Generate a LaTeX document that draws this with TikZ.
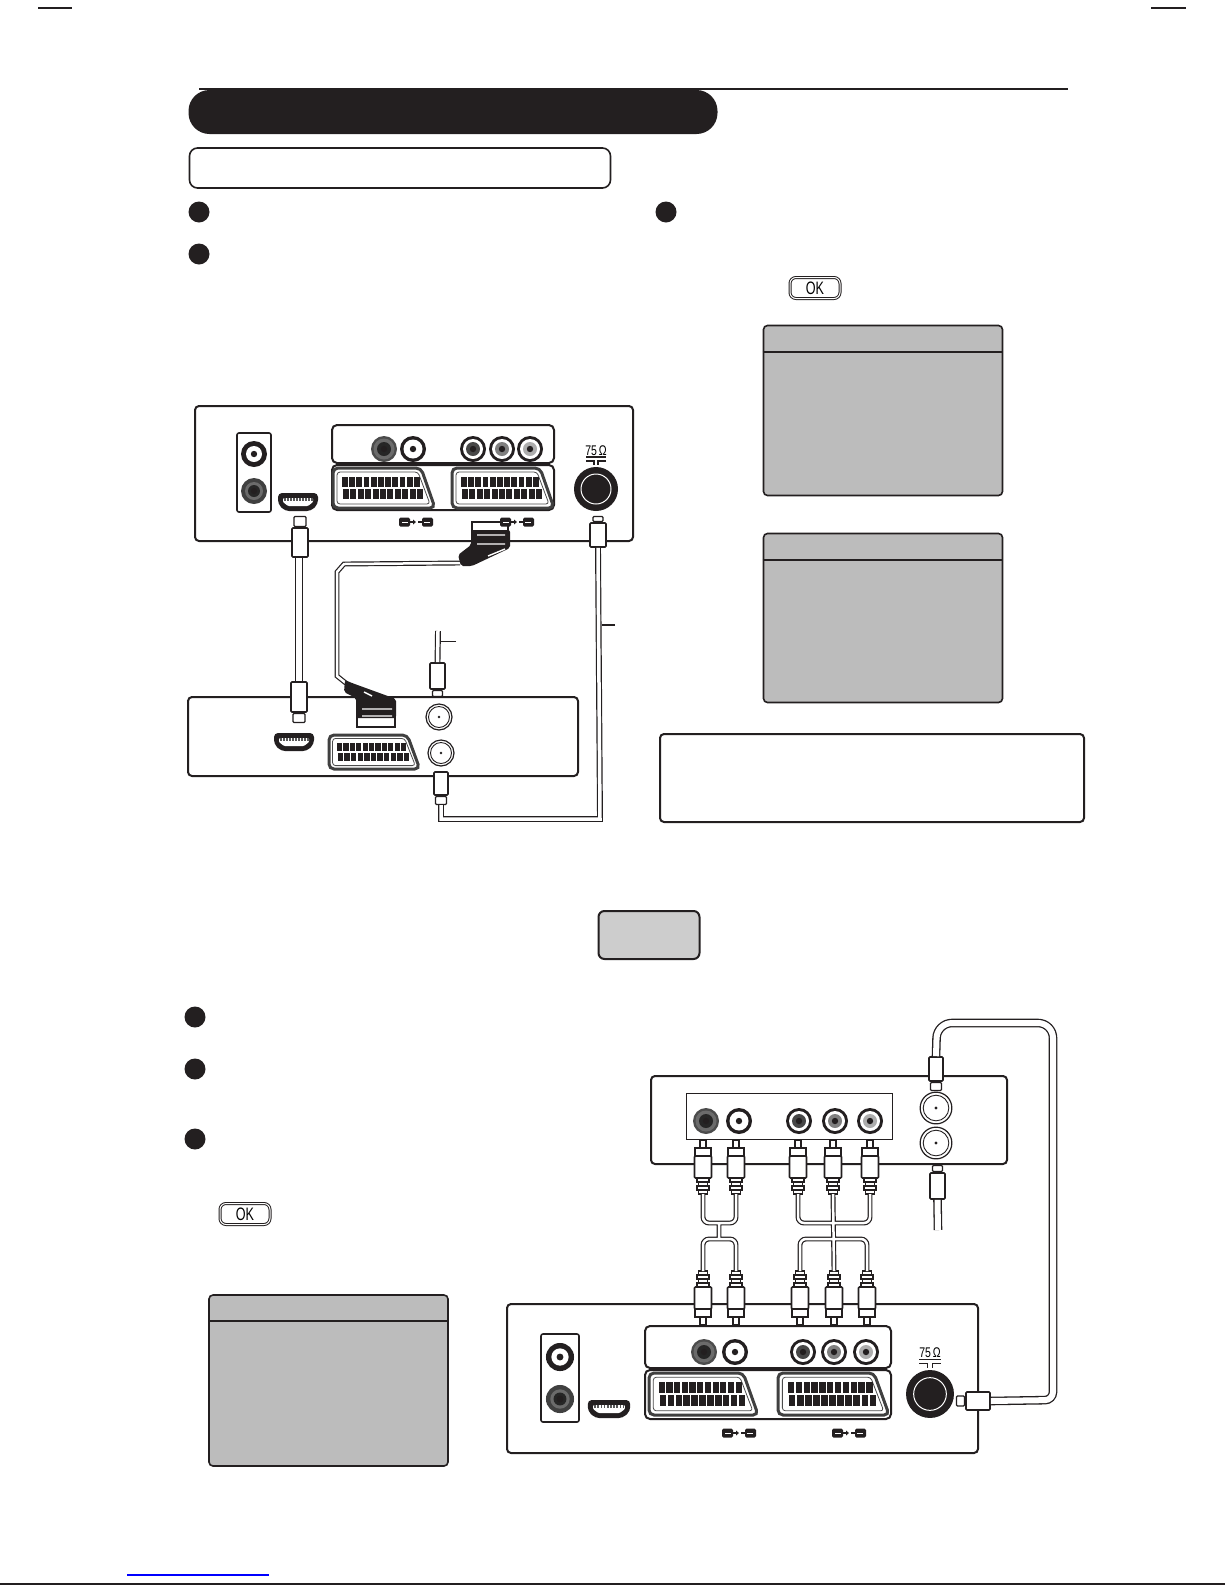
\documentclass[tikz,border=0pt]{standalone}
\usepackage{fontspec}
\setmainfont{Liberation Sans}
\usetikzlibrary{positioning}
\definecolor{inkblack}{HTML}{231F20}
\definecolor{osdgrey}{HTML}{BCBCBC}
\definecolor{keygrey}{HTML}{CDCDCD}

\tikzset{
  devbox/.style={draw=inkblack, fill=white, line width=2pt, rounded corners=4pt, inner sep=0pt},
  panelbox/.style={devbox, rounded corners=5pt},
  osdbox/.style={draw=inkblack, fill=osdgrey, line width=1.6pt, rounded corners=4pt, minimum width=239pt, inner sep=0pt},
  bullet/.style={circle, fill=inkblack, minimum size=21pt, inner sep=0pt},
  okkey/.style={draw=inkblack, fill=white, double, double distance=1pt, line width=1pt, rounded corners=6pt,
    minimum width=50pt, minimum height=21pt, inner sep=0pt, font=\fontsize{18}{18}\selectfont},
  plugbody/.style={draw=inkblack, fill=white, line width=1.6pt, rounded corners=1pt, inner sep=0pt},
  plugtip/.style={plugbody, line width=1.3pt},
  cablefat/.style={draw=inkblack, double=white, double distance=6pt, line width=1.3pt},
  cablemid/.style={draw=inkblack, double=white, double distance=3.5pt, line width=1.2pt},
  cablethin/.style={draw=inkblack, double=white, double distance=2.5pt, line width=1.2pt},
  node distance=0pt,
  pics/jack/.style n args={5}{code={
    \fill[#1] (0,0) circle (13pt);
    \fill[#2] (0,0) circle (#3pt);
    \fill[#4] (0,0) circle (#5pt);
    \fill[inkblack] (0,0) circle (3.2pt);
  }},
  pics/scart/.style={code={
    \draw[line width=3pt, draw=black!75, fill=white, rounded corners=5pt] (0,0) -- (88,0) -- (102,40) -- (0,40) -- cycle;
    \draw[line width=.8pt, draw=black!70, rounded corners=3pt] (4,4) -- (85,4) -- (97,36) -- (4,36) -- cycle;
    \foreach \i in {0,...,10} {
      \fill[inkblack] (9+\i*7.2,9) rectangle ++(5.8,10);
      \fill[inkblack] (10+\i*7.4,21) rectangle ++(6,10);
    }
  }},
  pics/hdmi/.style={code={
    \fill[inkblack, rounded corners=4pt] (-20,-9) -- (20,-9) -- (20,2) -- (13,9) -- (-13,9) -- (-20,2) -- cycle;
    \fill[white, rounded corners=1pt] (-15,-4) -- (15,-4) -- (15,0) -- (10,4) -- (-10,4) -- (-15,0) -- cycle;
    \foreach \i in {0,...,9} \fill[black!65] (-14+\i*3,-4) rectangle ++(1.6,2.5);
  }},
  pics/coax/.style={code={
    \draw[draw=inkblack, fill=white, line width=1.2pt] (0,0) circle (13pt);
    \draw[draw=inkblack, line width=.9pt] (0,0) circle (10.5pt);
    \fill[inkblack] (0,0) circle (1.3pt);
  }},
  pics/antsocket/.style={code={
    \fill[inkblack] (0,0) circle (22pt);
    \draw[white, line width=1pt] (0,0) circle (15pt);
    \node[inner sep=0pt, font=\fontsize{14}{14}\selectfont] (-ohm) at (0,-38) {\scalebox{.75}[1]{75\,Ω}};
    \draw[inkblack, line width=1.2pt] (-10,-32) -- (10,-32);
    \draw[inkblack, line width=1.2pt] (-10,-28) -- (-2,-28) -- (-2,-24) (10,-28) -- (2,-28) -- (2,-24);
  }},
  pics/tinyport/.style={code={
    \fill[inkblack, rounded corners=1.5pt] (-17,-4.5) rectangle (-6,4.5);
    \fill[inkblack, rounded corners=1.5pt] (6,-4.5) rectangle (17,4.5);
    \draw[white, line width=.8pt] (-14,0) -- (-8,0) (8,0) -- (14,0);
    \draw[inkblack, line width=1.2pt] (-6,0) -- (-2,0) (2,0) -- (6,0);
    \fill[inkblack] (-3,-2.5) -- (0,0) -- (-3,2.5) -- cycle;
  }},
  pics/rcaplug/.style={code={
    \draw[draw=inkblack, fill=white, line width=1.2pt] (-3,0) rectangle (3,8);
    \draw[draw=inkblack, fill=white, line width=1.4pt] (-8,8) rectangle (8,16);
    \draw[draw=inkblack, fill=white, line width=1.6pt, rounded corners=1pt] (-8.5,16) rectangle (8.5,38);
    \draw[draw=inkblack, fill=white, line width=1.3pt] (-6,38) rectangle (6,42) (-4.5,42) rectangle (4.5,46)
      (-6,46) rectangle (6,50) (-4.5,50) rectangle (4.5,54);
    \coordinate (-tail) at (0,54);
  }}
}
\newcommand{\rcarow}[6]{
  \pic at (#2,#1) {jack={black!70}{black!58}{10.5}{black!85}{7}};
  \pic at (#3,#1) {jack={inkblack}{white}{9.5}{white}{3}};
  \pic at (#4,#1) {jack={inkblack}{white}{10}{black!72}{7}};
  \pic at (#5,#1) {jack={inkblack}{white}{10}{black!50}{7}};
  \pic at (#6,#1) {jack={inkblack}{white}{10}{black!32}{7}};
}

\begin{document}
\begin{tikzpicture}[x=1pt, y=-1pt]
  \useasboundingbox (0,0) rectangle (1225,1585);

  \draw[inkblack, line width=1.5pt] (38,8) -- (72,8) (1151,8) -- (1186,8);
  \draw[inkblack, line width=2pt] (0,1584) -- (1225,1584);
  \draw[blue, line width=1.3pt] (127,1575) -- (269,1575);

  \node[fill=inkblack, rounded corners=21pt, minimum width=529pt, minimum height=44pt, inner sep=0pt] (titlebar) at (453,112) {};
  \draw[inkblack, line width=2pt] (199,89) -- (1068,89);
  \node[devbox, minimum width=421pt, minimum height=40pt, line width=1.6pt, rounded corners=8pt] (subtitle) at (400,168) {};

  \node[bullet] (stepone) at (199,212) {};
  \node[bullet] (steptwo) at (199,254) {};
  \node[bullet] (stepthree) at (666,212) {};
  \node[bullet] (lowone) at (195,1017) {};
  \node[bullet] (lowtwo) at (195,1069) {};
  \node[bullet] (lowthree) at (195,1139) {};
  \node[okkey] (okupper) at (815,288) {\scalebox{.7}[1]{OK}};
  \node[okkey] (oklower) at (245,1214) {\scalebox{.7}[1]{OK}};

  \node[osdbox, minimum height=170pt] (osdtop) at (883,410.5) {};
  \node[osdbox, minimum height=169pt] (osdmid) at (883,618) {};
  \node[osdbox, minimum height=171pt] (osdlow) at (328.5,1380.5) {};
  \foreach \osd in {osdtop,osdmid,osdlow}
    \draw[inkblack, line width=1.6pt] ([yshift=-27pt]\osd.north west) -- ([yshift=-27pt]\osd.north east);
  \node[devbox, minimum width=424pt, minimum height=88pt] (notebox) at (872,778) {};
  \node[devbox, fill=keygrey, minimum width=101pt, minimum height=48pt, rounded corners=6pt] (greykey) at (649,935) {};

  \node[devbox, minimum width=438pt, minimum height=135pt] (tvupper) at (414,473.5) {};
  \node[panelbox, minimum width=34pt, minimum height=79pt, line width=1.6pt, rounded corners=2pt] (tvupperav) at (254,472.5) {};
  \node[panelbox, minimum width=222pt, minimum height=38pt] (tvuppertop) at (443,444) {};
  \node[panelbox, minimum width=222pt, minimum height=45pt] (tvupperbot) at (443,487.5) {};
  \pic at (254,454) {jack={inkblack}{white}{8}{white}{3}};
  \pic at (254,491) {jack={black!75}{black!58}{9}{black!85}{6}};
  \pic at (298,502) {hdmi};
  \rcarow{449}{384}{413}{473}{502}{530}
  \pic at (333,468) {scart};
  \pic at (452,468) {scart};
  \pic (antupper) at (596,489) {antsocket};

  \node[devbox, minimum width=390pt, minimum height=79pt] (recorder) at (383,736.5) {};
  \pic at (294,742) {hdmi};
  \pic[xscale=.89, yscale=.85] at (329,735) {scart};
  \pic at (439,717) {coax};
  \pic at (441,753) {coax};

  \draw[cablefat] (299,550) -- (299,690);
  \node[plugbody, minimum width=16pt, minimum height=29pt] (hdmitop) at (300,542.5) {};
  \node[plugtip, minimum width=12pt, minimum height=10pt, above=0pt of hdmitop] (hdmitoptip) {};
  \node[plugbody, minimum width=16pt, minimum height=30pt] (hdmibot) at (299,697) {};
  \node[plugtip, minimum width=12pt, minimum height=9pt, below=0pt of hdmibot] (hdmibottip) {};

  \coordinate (scartupper) at (460,563);
  \coordinate (scartlower) at (347,684);
  \draw[cablethin] (scartupper) -- (344,564) -- (337,572) -- (337,676) -- (scartlower);
  \draw[draw=inkblack, fill=white, line width=1.2pt] (472,522) rectangle (508,531);
  \fill[inkblack, rounded corners=2pt] (471,530) -- (510,530) -- (510,548) -- (472,566) -- (461,566) -- (458,555) -- (471,545) -- cycle;
  \draw[white, line width=1.4pt] (477,535) -- (505,535) (477,544) -- (505,544) (488,556) -- (505,549);
  \draw[draw=inkblack, fill=white, line width=1.2pt] (357,717) rectangle (395,727);
  \fill[inkblack, rounded corners=2pt] (345,680) -- (352,683) -- (396,699) -- (396,718) -- (356,718) -- (356,698) -- (344,692) -- cycle;
  \draw[white, line width=1.4pt] (362,709) -- (392,709) (362,716) -- (392,716) (364,692) -- (372,696);

  \node[plugbody, minimum width=16pt, minimum height=24pt] (feedupper) at (598,535) {};
  \node[plugtip, minimum width=10pt, minimum height=5pt, above=0pt of feedupper] (feedtip) {};
  \node[plugbody, minimum width=14pt, minimum height=23pt] (feedlower) at (441,783.5) {};
  \node[plugtip, minimum width=11pt, minimum height=8pt, below=0pt of feedlower] (feedlowtip) {};
  \coordinate (feedcornerA) at (441,819);
  \coordinate (feedcornerB) at (600,819);
  \draw[cablemid] (feedlowtip.south) -- (feedcornerA) -- (feedcornerB) -- (feedupper.south);
  \coordinate (feedlabel) at (615,625);
  \draw[inkblack, line width=1.4pt] (feedlabel) -- (602,625);

  \coordinate (aerialend) at (438,631);
  \node[plugbody, minimum width=15pt, minimum height=26pt] (aerialplug) at (437.5,676) {};
  \node[plugtip, minimum width=10pt, minimum height=6pt, below=0pt of aerialplug] (aerialtip) {};
  \draw[cablemid] (aerialend) -- (aerialplug.north);
  \coordinate (aeriallabel) at (456,641);
  \draw[inkblack, line width=1pt] (aeriallabel) -- (441,641);

  \pic at (416,522) {tinyport};
  \pic at (517,522) {tinyport};

  \node[devbox, minimum width=356pt, minimum height=88pt] (decoder) at (829,1120) {};
  \node[draw=inkblack, fill=white, line width=.8pt, minimum width=206pt, minimum height=46pt, inner sep=0pt] (decoderav) at (789,1116) {};
  \rcarow{1121}{706}{739}{799}{835}{870}
  \pic[scale=1.22] at (936,1108) {coax};
  \pic[scale=1.22] at (936,1143) {coax};

  \node[devbox, minimum width=471pt, minimum height=149pt] (tvlower) at (742.5,1378.5) {};
  \node[panelbox, minimum width=38pt, minimum height=88pt, line width=1.6pt, rounded corners=2pt] (tvlowerav) at (560,1378) {};
  \node[panelbox, minimum width=246pt, minimum height=42pt] (tvlowertop) at (768,1347) {};
  \node[panelbox, minimum width=246pt, minimum height=49pt] (tvlowerbot) at (768,1394.5) {};
  \pic[scale=1.08] at (560,1357) {jack={inkblack}{white}{8}{white}{3}};
  \pic[scale=1.08] at (560,1399) {jack={black!75}{black!58}{9}{black!85}{6}};
  \pic[xscale=1.06] at (609,1409) {hdmi};
  \rcarow{1352}{704}{735}{803}{834}{866}
  \pic[xscale=1.07, yscale=1.05] at (649,1373) {scart};
  \pic[xscale=1.09, yscale=1.05] at (778,1373) {scart};
  \pic[scale=1.09] (antlower) at (930,1394) {antsocket};
  \pic at (739,1433) {tinyport};
  \pic at (849,1433) {tinyport};

  \foreach \name/\x in {rcaA/703,rcaB/736,rcaC/798,rcaD/833,rcaE/870}
    \pic (\name) at (\x,1140) {rcaplug};
  \foreach \name/\x in {rcaF/703,rcaG/736,rcaH/800,rcaI/834,rcaJ/867}
    \pic[yscale=-1] (\name) at (\x,1325) {rcaplug};
  \draw[cablethin, rounded corners=6pt]
    (rcaA-tail) -- (rcaA-tail |- 0,1223) -- (rcaB-tail |- 0,1223) -- (rcaB-tail)
    (719,1223) -- (719,1239)
    (rcaF-tail) -- (rcaF-tail |- 0,1239) -- (rcaG-tail |- 0,1239) -- (rcaG-tail);
  \draw[cablethin, rounded corners=6pt]
    (rcaC-tail) -- (rcaC-tail |- 0,1223) -- (rcaE-tail |- 0,1223) -- (rcaE-tail)
    (rcaD-tail) -- (rcaI-tail)
    (rcaH-tail) -- (rcaH-tail |- 0,1239) -- (rcaJ-tail |- 0,1239) -- (rcaJ-tail);

  \node[plugbody, minimum width=14pt, minimum height=24pt] (cabletop) at (936,1069) {};
  \node[plugtip, minimum width=11pt, minimum height=8pt, below=0pt of cabletop] (cabletoptip) {};
  \node[plugbody, minimum width=24pt, minimum height=18pt] (cableside) at (978,1401) {};
  \node[plugtip, minimum width=8pt, minimum height=10pt, left=0pt of cableside] (cablesidetip) {};
  \draw[cablefat] (cabletop.north) [rounded corners=15pt] -- (937,1023) -- (1053,1023) [rounded corners=8pt] -- (1053,1400) -- (cableside.east);

  \coordinate (stubend) at (938,1230);
  \node[plugbody, minimum width=15pt, minimum height=26pt] (stubplug) at (937.5,1186) {};
  \node[plugtip, minimum width=10pt, minimum height=6pt, above=0pt of stubplug] (stubtip) {};
  \draw[cablefat] (stubplug.south) -- (stubend);
\end{tikzpicture}
\end{document}
